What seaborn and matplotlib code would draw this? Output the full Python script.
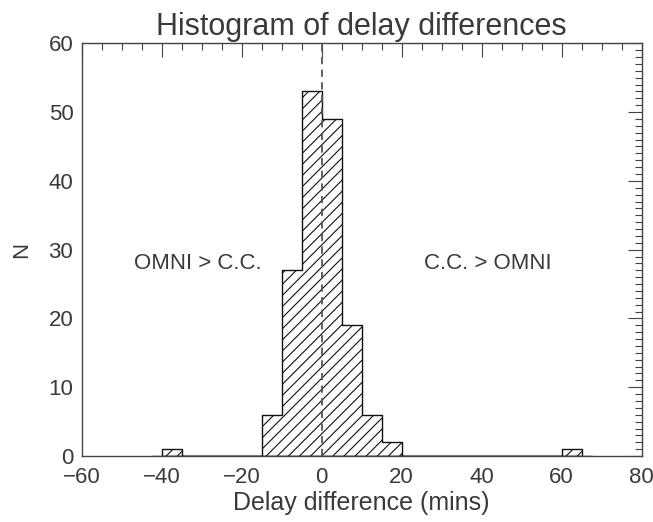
import numpy as np
import pandas as pd
import matplotlib
matplotlib.use("Agg")
import matplotlib.pyplot as plt
import seaborn as sns
from matplotlib.ticker import MultipleLocator

# Data
bin_left = [-40, -35, -30, -25, -20, -15, -10, -5, 0, 5, 10, 15, 20, 25, 30, 35, 40, 45, 50, 55, 60]
counts   = [1,   0,   0,   0,   0,   6,   27,  53, 49, 19, 6,  2,  0,  0,  0,  0,  0,  0,  0,  0,  1]
bin_width = 5
title = "Histogram of delay differences"
xlabel = "Delay difference (mins)"
ylabel = "N"
left_note = "OMNI > C.C."
right_note = "C.C. > OMNI"

sns.set_theme(style="white")
plt.rcParams['font.family'] = ['Liberation Sans', 'DejaVu Sans']
plt.rcParams['hatch.linewidth'] = 0.8
txt = "#3a3a3a"

df = pd.DataFrame({"x": np.array(bin_left) + bin_width / 2, "w": counts})
lo, hi = bin_left[0], bin_left[-1] + bin_width

fig = plt.figure(figsize=(6.53, 5.22), dpi=100)
ax = fig.add_axes([0.1251, 0.1264, 0.8576, 0.7906])

sns.histplot(data=df, x="x", weights="w", binwidth=bin_width, binrange=(lo, hi), ax=ax,
             element="step", color="white", edgecolor="black", linewidth=1.0, alpha=1.0)
for c in ax.collections:
    c.set_hatch("///")
    c.set_facecolor("white")
    c.set_edgecolor("#111111")

# baseline extends half a bin beyond the histogram (IDL step style)
ax.plot([lo - bin_width / 2, hi + bin_width / 2], [0, 0], color="#111111", lw=1.0)

ax.axvline(0, color="#555555", lw=1.3, ls=(0, (4, 3)))

ax.set_xlim(-60, 80)
ax.set_ylim(0, 60)
ax.xaxis.set_major_locator(MultipleLocator(20))
ax.xaxis.set_minor_locator(MultipleLocator(5))
ax.yaxis.set_major_locator(MultipleLocator(10))
ax.yaxis.set_minor_locator(MultipleLocator(1))
ax.tick_params(which="both", direction="in", top=True, right=True,
               colors="#444444", labelcolor=txt, labelsize=16, width=0.8)
ax.tick_params(which="major", length=10)
ax.tick_params(which="minor", length=5)
ax.tick_params(axis="x", pad=8)
ax.tick_params(axis="y", pad=6)
for s in ax.spines.values():
    s.set_color("#444444")
    s.set_linewidth(1.0)

ax.set_title(title, fontsize=22, color=txt, pad=6)
ax.set_xlabel(xlabel, fontsize=18, color=txt, labelpad=2)
ax.set_ylabel(ylabel, fontsize=16, color=txt, labelpad=12)

ax.text(-31, 28, left_note, ha="center", va="center", fontsize=16, color=txt)
ax.text(41.5, 28, right_note, ha="center", va="center", fontsize=16, color=txt)

fig.savefig("out.png", dpi=100)
